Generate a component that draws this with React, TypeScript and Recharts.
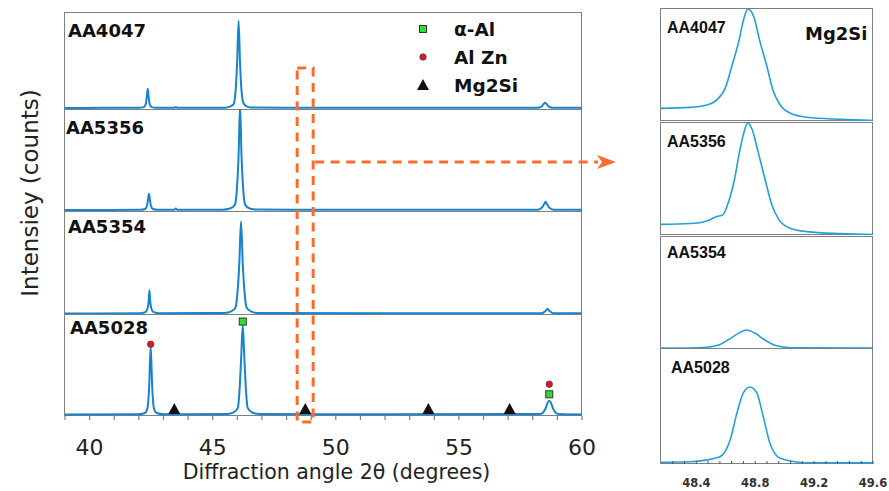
import { ComposedChart, Line, Scatter, XAxis, YAxis, Label } from "recharts";

const samples = ["AA4047", "AA5356", "AA5354", "AA5028"];

// full scans: 2θ (deg), intensity as % of panel height
const scanAA4047 = [
  [39.0, 2.0], [40.5, 2.2], [42.0, 2.3], [42.2, 3.0], [42.28, 6], [42.32, 13], [42.36, 22], [42.4, 13], [42.44, 6], [42.52, 3.0], [42.7, 2.3],
  [43.45, 2.3], [43.5, 3.2], [43.55, 2.3],
  [45.5, 2.4], [45.7, 3.5], [45.85, 6], [45.93, 20], [45.99, 48], [46.05, 92], [46.11, 48], [46.17, 20], [46.25, 7], [46.4, 3.5], [46.6, 2.5],
  [48.0, 2.3], [52.0, 2.2], [58.2, 2.3], [58.35, 3.5], [58.45, 6.5], [58.5, 7.5], [58.55, 6.5], [58.65, 3.5], [58.8, 2.3], [60.0, 2.2],
];
const scanAA5356 = [
  [39.0, 2.0], [42.05, 2.2], [42.25, 3.0], [42.33, 6], [42.37, 12], [42.41, 18], [42.45, 12], [42.49, 6], [42.57, 3.0], [42.8, 2.2],
  [43.45, 2.2], [43.5, 3.5], [43.55, 2.2],
  [45.4, 2.3], [45.7, 3.5], [45.9, 7], [45.98, 22], [46.05, 55], [46.11, 104], [46.17, 55], [46.24, 22], [46.32, 7], [46.5, 3.5], [46.8, 2.5],
  [50.0, 2.2], [58.2, 2.2], [58.38, 4.5], [58.47, 8], [58.52, 10], [58.57, 8], [58.66, 4.5], [58.85, 2.2], [60.0, 2.2],
];
const scanAA5354 = [
  [39.0, 1.5], [42.1, 1.8], [42.28, 3.0], [42.36, 7], [42.4, 14], [42.43, 24], [42.46, 14], [42.5, 7], [42.58, 3.0], [42.8, 1.8],
  [45.5, 2.0], [45.75, 3.5], [45.92, 7], [46.0, 20], [46.08, 50], [46.15, 91], [46.22, 50], [46.3, 20], [46.38, 7], [46.55, 3.5], [46.8, 2.0],
  [52.0, 1.8], [58.35, 1.8], [58.52, 4], [58.6, 6], [58.68, 4], [58.85, 1.8], [60.0, 1.6],
];
const scanAA5028 = [
  [39.0, 1.5], [42.0, 1.8], [42.25, 3.0], [42.35, 8], [42.42, 30], [42.48, 69], [42.54, 30], [42.61, 8], [42.72, 3.0], [43.0, 1.8],
  [45.6, 2.0], [45.85, 3.5], [46.02, 8], [46.1, 30], [46.16, 60], [46.22, 90], [46.28, 60], [46.34, 30], [46.42, 8], [46.6, 3.5], [46.9, 2.0],
  [52.0, 1.8], [58.3, 2.0], [58.42, 3.5], [58.52, 7.5], [58.6, 13], [58.67, 15], [58.74, 13], [58.82, 7.5], [58.92, 3.5], [59.05, 2.0], [60.0, 1.6],
];

// Mg2Si window around 48.8°
const zoomAA4047 = [
  [48.16, 11.3], [48.36, 12.2], [48.47, 14.3], [48.54, 18.8], [48.6, 30.6], [48.64, 48.5], [48.69, 72], [48.72, 90], [48.75, 100],
  [48.79, 93], [48.83, 72], [48.88, 48.5], [48.92, 27.7], [48.97, 14.3], [49.04, 6.9], [49.15, 3.3], [49.38, 1.5], [49.6, 0.5],
];
const zoomAA5356 = [
  [48.16, 9.5], [48.36, 10.2], [48.47, 12.5], [48.54, 16.5], [48.58, 18], [48.62, 30], [48.66, 50], [48.69, 72], [48.72, 90], [48.75, 100],
  [48.78, 94], [48.82, 74], [48.87, 48], [48.91, 28], [48.96, 14], [49.03, 6.5], [49.15, 3.0], [49.38, 1.2], [49.6, 0.5],
];
const zoomAA5354 = [
  [48.16, 0.8], [48.4, 1.0], [48.5, 2.0], [48.56, 4], [48.62, 8.5], [48.68, 13.5], [48.74, 17], [48.8, 14], [48.86, 8.5],
  [48.92, 4], [48.99, 1.8], [49.1, 1.0], [49.6, 0.8],
];
const zoomAA5028 = [
  [48.16, 1.5], [48.36, 2.0], [48.56, 6.3], [48.63, 21], [48.675, 44], [48.72, 62], [48.765, 67], [48.81, 62], [48.855, 41],
  [48.9, 18], [48.97, 5], [49.15, 1.1], [49.6, 1.0],
];

// phase markers on the AA5028 scan
const alphaAlPeaks = [[46.22, 93.5], [58.67, 21.5]];
const alZnPeaks = [[42.48, 71], [58.67, 31.5]];
const mg2siPeaks = [[43.44, 7], [48.76, 7], [53.76, 7], [57.06, 7]];

const scanTicks = [39, 40, 41, 42, 43, 44, 45, 46, 47, 48, 49, 50, 51, 52, 53, 54, 55, 56, 57, 58, 59, 60];
const scanTickLabels = [40, 45, 50, 55, 60];
const zoomTicks = [48.24, 48.32, 48.4, 48.48, 48.56, 48.64, 48.72, 48.8, 48.88, 48.96, 49.04, 49.12, 49.2, 49.28, 49.36, 49.44, 49.52, 49.6];
const zoomTickLabels = [48.4, 48.8, 49.2, 49.6];
const zoomWindow = [48.43, 49.08];

const legendItems = [
  { name: "α-Al", shape: "square" },
  { name: "Al Zn", shape: "circle" },
  { name: "Mg2Si", shape: "triangle" },
];

const scans = [scanAA4047, scanAA5356, scanAA5354, scanAA5028];
const zooms = [zoomAA4047, zoomAA5356, zoomAA5354, zoomAA5028];
const pts = (rows: number[][]) => rows.map(([x, y]) => ({ x, y }));

const LEFT_BLUE = "#1683cf";
const RIGHT_BLUE = "#22a0dc";
const FRAME = "#7f7f7f";
const ORANGE = "#ff6b2c";
const FONT = "DejaVu Sans";

const SCAN_X = 65;
const SCAN_W = 517;
const scanRows = [
  { top: 13, h: 97 },
  { top: 110, h: 102 },
  { top: 212, h: 103 },
  { top: 315, h: 101 },
];
const ZOOM_X = 661;
const ZOOM_W = 212;
const zoomRows = [
  { top: 9, h: 112 },
  { top: 123, h: 112 },
  { top: 237, h: 112 },
  { top: 349, h: 115 },
];

const Square = (p: any) => (
  <rect x={p.cx - 3.5} y={p.cy - 3.5} width={7} height={7} fill="#2ee02e" stroke="#333" strokeWidth={1} />
);
const Dot = (p: any) => <circle cx={p.cx} cy={p.cy} r={3.2} fill="#e8141b" stroke="#444" strokeWidth={0.8} />;
const Tri = (p: any) => (
  <polygon points={`${p.cx},${p.cy - 6} ${p.cx - 6},${p.cy + 5} ${p.cx + 6},${p.cy + 5}`} fill="#111" />
);

function ScanTick({ x, y, payload }: any) {
  return (
    <g>
      <line x1={x} x2={x} y1={y} y2={y + 4} stroke={FRAME} strokeWidth={1.2} />
      {scanTickLabels.includes(payload.value) && (
        <text x={x} y={y + 39} textAnchor="middle" fontFamily={FONT} fontSize={22} fill="#222">
          {payload.value}
        </text>
      )}
    </g>
  );
}

function ZoomTick({ x, y, payload, labels }: any) {
  return (
    <g>
      <line x1={x} x2={x} y1={y} y2={y - 3} stroke="#555" strokeWidth={1} />
      {labels && zoomTickLabels.includes(payload.value) && (
        <text x={x} y={y + 23} textAnchor="middle" fontFamily={FONT} fontWeight="bold" fontSize={11.5} fill="#333">
          {payload.value.toFixed(1)}
        </text>
      )}
    </g>
  );
}

function Frame({ left, top, width, height }: any) {
  return (
    <div
      style={{
        position: "absolute",
        left: left - 0.75,
        top: top - 0.75,
        width: width - 1.5,
        height: height - 1.5,
        border: `1.5px solid ${FRAME}`,
      }}
    />
  );
}

function ScanPanel({ index }: { index: number }) {
  const { top, h } = scanRows[index];
  const last = index === scanRows.length - 1;
  const mL = 2;
  const mR = 22;
  const axisH = last ? 491 - (top + h) : 0;
  return (
    <>
      <Frame left={SCAN_X} top={top} width={SCAN_W} height={h} />
      <div style={{ position: "absolute", left: SCAN_X - mL, top }}>
        <ComposedChart width={SCAN_W + mL + mR} height={h + axisH} margin={{ top: 0, right: mR, bottom: 0, left: mL }}>
          <XAxis
            dataKey="x"
            type="number"
            domain={[39, 60]}
            allowDataOverflow
            hide={!last}
            height={axisH}
            ticks={scanTicks}
            interval={0}
            tickSize={0}
            tickMargin={0}
            tickLine={false}
            axisLine={false}
            tick={(p: any) => <ScanTick {...p} />}
          >
            {last && (
              <Label
                content={(p: any) => {
                  const vb = p.viewBox;
                  return (
                    <text x={vb.x + vb.width / 2 + 13} y={vb.y + 63} textAnchor="middle" fontFamily={FONT} fontSize={20.5} fill="#222">
                      Diffraction angle 2θ (degrees)
                    </text>
                  );
                }}
              />
            )}
          </XAxis>
          <YAxis dataKey="y" type="number" domain={[0, 100]} allowDataOverflow hide />
          <Line data={pts(scans[index])} dataKey="y" type="monotone" stroke={LEFT_BLUE} strokeWidth={2} dot={false} isAnimationActive={false} />
          {last && <Scatter data={pts(mg2siPeaks)} dataKey="y" shape={Tri} isAnimationActive={false} />}
          {last && <Scatter data={pts(alphaAlPeaks)} dataKey="y" shape={Square} isAnimationActive={false} />}
          {last && <Scatter data={pts(alZnPeaks)} dataKey="y" shape={Dot} isAnimationActive={false} />}
        </ComposedChart>
      </div>
    </>
  );
}

function ZoomPanel({ index }: { index: number }) {
  const { top, h } = zoomRows[index];
  const last = index === zoomRows.length - 1;
  const ticked = index >= 2;
  const mL = 2;
  const mR = 14;
  const axisH = last ? 491 - (top + h) : 0;
  return (
    <>
      <Frame left={ZOOM_X} top={top} width={ZOOM_W} height={h} />
      <div style={{ position: "absolute", left: ZOOM_X - mL, top }}>
        <ComposedChart width={ZOOM_W + mL + mR} height={h + axisH} margin={{ top: 0, right: mR, bottom: 0, left: mL }}>
          <XAxis
            dataKey="x"
            type="number"
            domain={[48.16, 49.6]}
            allowDataOverflow
            hide={!ticked}
            height={axisH}
            ticks={zoomTicks}
            interval={0}
            tickSize={0}
            tickMargin={0}
            tickLine={false}
            axisLine={false}
            tick={(p: any) => <ZoomTick {...p} labels={last} />}
          />
          <YAxis dataKey="y" type="number" domain={[0, 100]} allowDataOverflow hide />
          <Line data={pts(zooms[index])} dataKey="y" type="monotone" stroke={RIGHT_BLUE} strokeWidth={1.6} dot={false} isAnimationActive={false} />
        </ComposedChart>
      </div>
    </>
  );
}

const scanLabelPos = [
  { x: 68, y: 37 },
  { x: 66, y: 134 },
  { x: 68, y: 233 },
  { x: 70, y: 334 },
];
const zoomLabelPos = [
  { x: 667, y: 33 },
  { x: 667, y: 147 },
  { x: 667, y: 258 },
  { x: 671, y: 373 },
];

function Overlay() {
  const sx = (v: number) => SCAN_X + ((v - 39) / 21) * SCAN_W;
  const bx1 = sx(zoomWindow[0]);
  const bx2 = sx(zoomWindow[1]);
  return (
    <svg width={889} height={491} style={{ position: "absolute", left: 0, top: 0, pointerEvents: "none" }}>
      <text
        x={38}
        y={193}
        transform="rotate(-90 38 193)"
        textAnchor="middle"
        fontFamily={FONT}
        fontSize={23}
        fill="#222"
      >
        Intensiey (counts)
      </text>
      {samples.map((s, i) => (
        <text key={"l" + s} x={scanLabelPos[i].x} y={scanLabelPos[i].y} fontFamily={FONT} fontWeight="bold" fontSize={18} fill="#111">
          {s}
        </text>
      ))}
      {samples.map((s, i) => (
        <text key={"r" + s} x={zoomLabelPos[i].x} y={zoomLabelPos[i].y} fontFamily="Liberation Sans" fontWeight="bold" fontSize={16} fill="#111">
          {s}
        </text>
      ))}
      <text x={805} y={40} fontFamily={FONT} fontWeight="bold" fontSize={18} fill="#111">
        Mg2Si
      </text>
      {legendItems.map((item, i) => {
        const cy = 29 + i * 28;
        return (
          <g key={item.name}>
            {item.shape === "square" && <Square cx={423} cy={cy} />}
            {item.shape === "circle" && <Dot cx={423} cy={cy} />}
            {item.shape === "triangle" && <Tri cx={423} cy={cy} />}
            <text x={454} y={cy + 7} fontFamily={FONT} fontWeight="bold" fontSize={18.5} fill="#111">
              {item.name}
            </text>
          </g>
        );
      })}
      <rect x={bx1} y={68} width={bx2 - bx1} height={354} fill="none" stroke={ORANGE} strokeWidth={3} strokeDasharray="9 6.5" />
      <line x1={bx2 + 2} x2={598} y1={162} y2={162} stroke={ORANGE} strokeWidth={3} strokeDasharray="9 6.5" />
      <polygon points="597,155 616,162 597,169 602,162" fill={ORANGE} />
    </svg>
  );
}

export default function App() {
  return (
    <div style={{ position: "absolute", left: 0, top: 0, width: 889, height: 491, background: "#fff", fontFamily: FONT }}>
      {scanRows.map((_, i) => (
        <ScanPanel key={"s" + i} index={i} />
      ))}
      {zoomRows.map((_, i) => (
        <ZoomPanel key={"z" + i} index={i} />
      ))}
      <Overlay />
    </div>
  );
}
